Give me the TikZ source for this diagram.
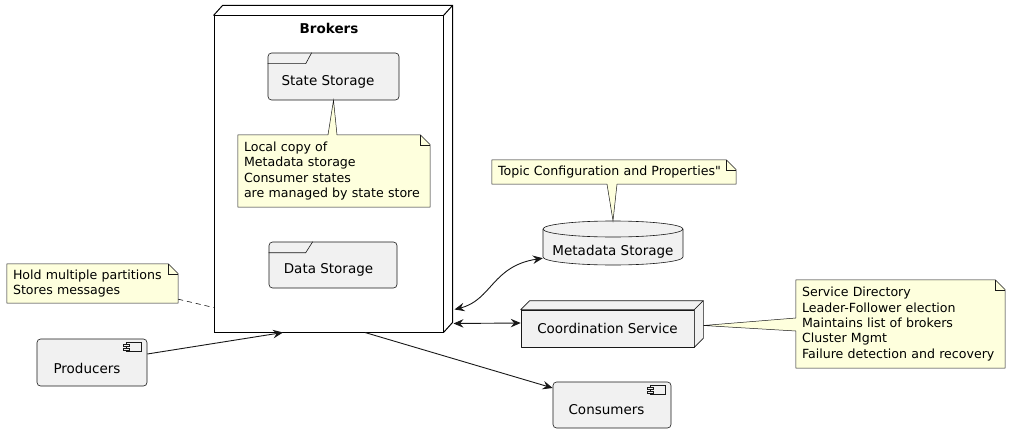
\documentclass[tikz,border=0pt]{standalone}
\usepackage{fontspec}
\setmainfont{DejaVu Sans}
\newfontfamily\qfont{DejaVu Sans}[Ligatures=TeXOff]
\usetikzlibrary{calc,arrows.meta}
\definecolor{nfill}{HTML}{F1F1F1}
\definecolor{nline}{HTML}{181818}
\definecolor{notefill}{HTML}{FEFFDD}
\begin{document}
\begin{tikzpicture}[x=1pt,y=-1pt,
  lbl/.style={font=\fontsize{13.5}{16}\selectfont, inner sep=0pt},
  notetxt/.style={font=\fontsize{12.6}{15.3}\selectfont, align=left, inner xsep=0pt, inner ysep=0pt},
  box/.style={draw=nline, fill=nfill, line width=0.6pt, rounded corners=3.5pt, inner sep=0pt},
  plain/.style={draw=nline, fill=nfill, line width=0.6pt, line join=round},
  ghost/.style={inner sep=0pt, draw=none, fill=none},
  noteshape/.style={draw=nline, fill=notefill, line width=0.5pt, line join=miter},
  tipA/.tip={Stealth[length=10pt,width=8.5pt,inset=3.5pt]},
  arr/.style={line width=0.9pt, draw=nline, -tipA},
  darr/.style={line width=0.9pt, draw=nline, tipA-tipA},
  icon/.style={draw=nline, fill=nfill, line width=0.5pt}
]
\useasboundingbox (0,0) rectangle (1011,433);

% ---------- Brokers 3D box ----------
\node[draw=black, line width=1pt, minimum width=229pt, minimum height=316pt, inner sep=0pt] (brk) at (328.5,174) {};
\draw[line width=1pt, line join=miter] (brk.north west) -- ++(9,-10) -- ($(brk.north east)+(9,-10)$) -- ($(brk.south east)+(9,-10)$) -- (brk.south east);
\draw[line width=1pt] (brk.north east) -- ++(9,-10);
\node[font=\bfseries\fontsize{13.5}{16}\selectfont, inner sep=0pt] (brkt) at (329,28) {Brokers};

% ---------- State Storage (folder) ----------
\node[box, minimum width=131pt, minimum height=47pt] (ss) at (333.5,76.5) {};
\draw[nline, line width=0.6pt] ([yshift=-11pt]ss.north west) -- ++(38,0) -- ++(6,-11);
\node[lbl] (sst) at (328,82) {State Storage};

% ---------- Data Storage (folder) ----------
\node[box, minimum width=128pt, minimum height=46pt] (ds) at (333,265) {};
\draw[nline, line width=0.6pt] ([yshift=-11pt]ds.north west) -- ++(37,0) -- ++(7,-11);
\node[lbl] (dst) at (328.5,270) {Data Storage};

% ---------- Note: state storage ----------
\node[ghost, minimum width=192pt, minimum height=72pt] (n1) at (334,171) {};
\path[noteshape] (n1.north west) -- ($(n1.north)+(-6,0)$) -- (ss.south) -- ($(n1.north)+(3,0)$) -- ($(n1.north east)+(-10,0)$) -- ++(10,10) -- (n1.south east) -- (n1.south west) -- cycle;
\draw[nline, line width=0.5pt] ($(n1.north east)+(-10,0)$) -- ++(0,10) -- ++(10,0);
\node[notetxt, text width=180pt] (n1t) at (n1.center) {Local copy of\\Metadata storage\\Consumer states\\are managed by state store};

% ---------- Metadata Storage (cylinder) ----------
\node[ghost, minimum width=140pt, minimum height=44pt] (md) at (613,243) {};
\path[plain] (543,229) -- (543,257) arc[start angle=180, end angle=360, x radius=70pt, y radius=8pt] -- (683,229) arc[start angle=0, end angle=180, x radius=70pt, y radius=8pt] -- cycle;
\draw[nline, line width=0.6pt] (543,229) arc[start angle=180, end angle=360, x radius=70pt, y radius=8pt];
\node[lbl] (mdt) at (613,252) {Metadata Storage};

% ---------- Note: metadata ----------
\node[ghost, minimum width=244pt, minimum height=24pt] (n2) at (614,172) {};
\path[noteshape] (n2.north west) -- ($(n2.north east)+(-10,0)$) -- ++(10,10) -- (n2.south east) -- ($(n2.south)+(3,0)$) -- (md.north) -- ($(n2.south)+(-7,0)$) -- (n2.south west) -- cycle;
\draw[nline, line width=0.5pt] ($(n2.north east)+(-10,0)$) -- ++(0,10) -- ++(10,0);
\node[notetxt, text width=232pt] (n2t) at (n2.center) {Topic Configuration and Properties{\qfont "}};

% ---------- Coordination Service (3D box) ----------
\node[plain, minimum width=173pt, minimum height=37pt, inner sep=0pt, font=\fontsize{13.5}{16}\selectfont] (cs) at (607.5,328.5) {Coordination Service};
\path[plain] (cs.north west) -- ++(9,-9) -- ($(cs.north east)+(9,-9)$) -- (cs.north east) -- cycle;
\path[plain] (cs.north east) -- ++(9,-9) -- ($(cs.south east)+(9,-9)$) -- (cs.south east) -- cycle;
\coordinate (csr) at ($(cs.east)+(9,-3)$);

% ---------- Note: coordination ----------
\node[ghost, minimum width=209pt, minimum height=88pt] (n3) at (900.5,324) {};
\path[noteshape] (n3.north west) -- ($(n3.north east)+(-10,0)$) -- ++(10,10) -- (n3.south east) -- (n3.south west) -- ($(n3.west)+(0,7)$) -- (csr) -- ($(n3.west)+(0,-6)$) -- cycle;
\draw[nline, line width=0.5pt] ($(n3.north east)+(-10,0)$) -- ++(0,10) -- ++(10,0);
\node[notetxt, text width=197pt] (n3t) at (n3.center) {Service Directory\\Leader-Follower election\\Maintains list of brokers\\Cluster Mgmt\\Failure detection and recovery};

% ---------- Note: brokers ----------
\node[ghost, minimum width=171pt, minimum height=39pt] (n4) at (92.5,283.5) {};
\path[noteshape] (n4.north west) -- ($(n4.north east)+(-10,0)$) -- ++(10,10) -- (n4.south east) -- (n4.south west) -- cycle;
\draw[nline, line width=0.5pt] ($(n4.north east)+(-10,0)$) -- ++(0,10) -- ++(10,0);
\node[notetxt, text width=159pt] (n4t) at (n4.center) {Hold multiple partitions\\Stores messages};
\draw[nline, line width=0.6pt, dash pattern=on 5pt off 4pt] ([yshift=4pt]n4.south east) -- ([yshift=25pt]brk.south west);

% ---------- Producers ----------
\node[box, minimum width=110pt, minimum height=47pt] (pr) at (92,362.5) {};
\draw[icon] ($(pr.north east)+(-21,4)$) rectangle ++(15,9);
\draw[icon] ($(pr.north east)+(-24,6)$) rectangle ++(6,2);
\draw[icon] ($(pr.north east)+(-24,10)$) rectangle ++(6,2);
\node[lbl] (prt) at (87,368) {Producers};

% ---------- Consumers ----------
\node[box, minimum width=118pt, minimum height=46pt] (co) at (612,405) {};
\draw[icon] ($(co.north east)+(-21,4)$) rectangle ++(15,9);
\draw[icon] ($(co.north east)+(-24,6)$) rectangle ++(6,2);
\draw[icon] ($(co.north east)+(-24,10)$) rectangle ++(6,2);
\node[lbl] (cot) at (606.5,410) {Consumers};

% ---------- Connectors ----------
\draw[arr] ([yshift=8.5pt]pr.east) -- ([xshift=-45.5pt]brk.south);
\draw[arr] ([xshift=36.5pt]brk.south) -- ([yshift=17pt]co.west);
\coordinate (bk1) at ($(brk.south east)+(10,-9)$);
\draw[darr] (bk1) -- ([yshift=5.5pt]cs.west);
\coordinate (bk2) at ($(brk.south east)+(11,-23)$);
\draw[darr] (bk2) .. controls (492,300) and (492,266) .. ([yshift=7pt]md.south west);
\end{tikzpicture}
\end{document}
